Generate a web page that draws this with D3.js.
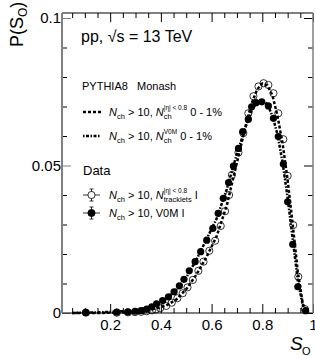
<html>
<script src='https://d3js.org/d3.v7.min.js'></script>
<style>
body {margin:0;}
text {font-family: "Liberation Sans", Arial, sans-serif; white-space: pre;}
</style>
<body onload='init()'>
<svg width=315 height=356>
</svg>
<script>
// data
var sV0M = [0.104, 0.226, 0.27, 0.298, 0.322, 0.344, 0.364, 0.383, 0.407, 0.43, 0.452, 0.473, 0.491, 0.512, 0.535, 0.557, 0.581, 0.605, 0.626, 0.646, 0.667, 0.686, 0.706, 0.723, 0.745, 0.758, 0.775, 0.798, 0.824, 0.844, 0.863, 0.883, 0.9, 0.92, 0.94, 0.971];
var pV0M = [0.0002, 0.0003, 0.0004, 0.0006, 0.0008, 0.0013, 0.0021, 0.0031, 0.0042, 0.0055, 0.0072, 0.0092, 0.0114, 0.0143, 0.0174, 0.0208, 0.0247, 0.0287, 0.0338, 0.0389, 0.0442, 0.0498, 0.0558, 0.0615, 0.0657, 0.0699, 0.0713, 0.0716, 0.0702, 0.066, 0.0598, 0.0505, 0.0377, 0.0233, 0.0089, 0.0008];

var sTrk = [0.104, 0.226, 0.27, 0.298, 0.322, 0.344, 0.365, 0.38, 0.397, 0.421, 0.443, 0.465, 0.486, 0.505, 0.526, 0.548, 0.568, 0.591, 0.614, 0.636, 0.653, 0.669, 0.68, 0.706, 0.725, 0.745, 0.765, 0.785, 0.805, 0.824, 0.844, 0.863, 0.883, 0.9, 0.922, 0.942, 0.968];
var pTrk = [0.0001, 0.0001, 0.0002, 0.0003, 0.0004, 0.0006, 0.0009, 0.0012, 0.0016, 0.0024, 0.0035, 0.005, 0.0067, 0.0087, 0.0112, 0.0143, 0.0174, 0.0211, 0.0245, 0.0295, 0.0345, 0.04, 0.0468, 0.0544, 0.061, 0.0677, 0.0735, 0.0768, 0.0779, 0.0773, 0.0745, 0.0677, 0.0589, 0.0465, 0.0298, 0.0123, 0.0013];

var sPythia = [0.05, 0.1, 0.15, 0.2, 0.25, 0.3, 0.34, 0.38, 0.42, 0.46, 0.5, 0.54, 0.58, 0.62, 0.66, 0.7, 0.74, 0.76, 0.78, 0.8, 0.82, 0.84, 0.86, 0.88, 0.9, 0.92, 0.94, 0.96, 0.98];
var pPythiaTrk = [0, 0, 0, 0.0001, 0.0002, 0.0005, 0.0009, 0.0015, 0.0025, 0.0045, 0.0081, 0.013, 0.019, 0.026, 0.0365, 0.051, 0.0655, 0.0715, 0.0758, 0.0778, 0.0772, 0.0738, 0.0668, 0.0575, 0.045, 0.03, 0.014, 0.003, 0.0002];
var pPythiaV0M = [0, 0.0001, 0.0002, 0.0004, 0.0006, 0.001, 0.0016, 0.0027, 0.0048, 0.0078, 0.012, 0.018, 0.025, 0.032, 0.042, 0.054, 0.0645, 0.069, 0.0715, 0.0722, 0.0708, 0.0668, 0.0605, 0.051, 0.039, 0.025, 0.011, 0.0025, 0.0002];

var xMajor = [0.2, 0.4, 0.6, 0.8, 1];
var xMinor = [0.05, 0.1, 0.15, 0.25, 0.3, 0.35, 0.45, 0.5, 0.55, 0.65, 0.7, 0.75, 0.85, 0.9, 0.95];
var yMajor = [0, 0.05, 0.1];
var yMinor = [0.01, 0.02, 0.03, 0.04, 0.06, 0.07, 0.08, 0.09];

function init() {
	var svg = d3.select("svg");
	var left = 62, top = 13;
	var width = 251, height = 300;

	var x = d3.scaleLinear().domain([0.01, 1]).range([0, width]);
	var y = d3.scaleLinear().domain([0, 0.1017]).range([height, 0]);

	var g = svg.append("g").attr("transform", "translate(" + left + "," + top + ")");

	// axes, ticks inside
	var bx = g.append("g").attr("transform", "translate(0," + height + ")").call(d3.axisBottom(x).tickValues(xMajor).tickSize(-9).tickPadding(6).tickFormat(function(d){return d;}));
	bx.selectAll("text").style("font-size", "15px").attr("fill", "black");
	g.append("g").attr("transform", "translate(0," + height + ")").call(d3.axisBottom(x).tickValues(xMinor).tickSize(-5).tickFormat(""));
	g.append("g").call(d3.axisTop(x).tickValues(xMajor).tickSize(-9).tickFormat(""));
	g.append("g").call(d3.axisTop(x).tickValues(xMinor).tickSize(-5).tickFormat(""));

	var ly = g.append("g").call(d3.axisLeft(y).tickValues(yMajor).tickSize(-9).tickPadding(1).tickFormat(function(d){return d;}));
	ly.selectAll("text").style("font-size", "15px").attr("fill", "black");
	g.append("g").call(d3.axisLeft(y).tickValues(yMinor).tickSize(-5).tickFormat(""));
	g.append("g").attr("transform", "translate(" + width + ",0)").call(d3.axisRight(y).tickValues(yMajor).tickSize(-9).tickFormat(""));
	g.append("g").attr("transform", "translate(" + width + ",0)").call(d3.axisRight(y).tickValues(yMinor).tickSize(-5).tickFormat(""));

	g.selectAll(".domain").remove();
	g.selectAll(".tick line").attr("stroke", "black");
	ly.selectAll(".tick line").attr("stroke", "#808080");

	// frame
	g.append("line").attr("x1", 0).attr("x2", width).attr("y1", 0).attr("y2", 0).attr("stroke", "black");
	g.append("line").attr("x1", 0).attr("x2", width).attr("y1", height).attr("y2", height).attr("stroke", "black");
	g.append("line").attr("x1", 0).attr("x2", 0).attr("y1", 0).attr("y2", height).attr("stroke", "#808080").attr("stroke-width", 2);
	g.append("line").attr("x1", width).attr("x2", width).attr("y1", 0).attr("y2", height).attr("stroke", "#808080").attr("stroke-width", 1.5);

	// PYTHIA curves
	var line = d3.line().x(function(d){return x(d[0]);}).y(function(d){return y(d[1]);});
	g.append("path").datum(d3.zip(sPythia, pPythiaTrk)).attr("d", line)
		.attr("fill", "none").attr("stroke", "black").attr("stroke-width", 2.5).attr("stroke-dasharray", "3,2");
	g.append("path").datum(d3.zip(sPythia, pPythiaV0M)).attr("d", line)
		.attr("fill", "none").attr("stroke", "black").attr("stroke-width", 2.5).attr("stroke-dasharray", "1.5,1.5,3,1.5");

	// data points
	g.selectAll(".trk").data(d3.zip(sTrk, pTrk)).enter().append("circle").attr("class", "trk")
		.attr("cx", function(d){return x(d[0]);}).attr("cy", function(d){return y(d[1]);})
		.attr("r", 3.6).attr("fill", "none").attr("stroke", "black").attr("stroke-width", 0.8);
	g.selectAll(".v0m").data(d3.zip(sV0M, pV0M)).enter().append("circle").attr("class", "v0m")
		.attr("cx", function(d){return x(d[0]);}).attr("cy", function(d){return y(d[1]);})
		.attr("r", 3.6).attr("fill", "black");

	// axis titles
	var yt = svg.append("text").attr("transform", "translate(23,47) rotate(-90)").style("font-size", "18px");
	yt.append("tspan").text("P(S");
	yt.append("tspan").text("O").style("font-size", "12px").attr("dy", 4);
	yt.append("tspan").text(")").attr("dy", -4);

	svg.append("text").attr("x", 290).attr("y", 350).text("S").style("font-size", "19px").style("font-style", "italic");
	svg.append("text").attr("x", 302).attr("y", 355).text("O").style("font-size", "11px");

	// header texts
	svg.append("text").attr("x", 81).attr("y", 42).text("pp, \u221As = 13 TeV").style("font-size", "16px");
	svg.append("text").attr("x", 82).attr("y", 90).text("PYTHIA8   Monash").style("font-size", "11px");
	svg.append("text").attr("x", 83).attr("y", 175).text("Data").style("font-size", "13px");

	// rich text helper: parts [text, kind]
	function rich(x0, y0, parts) {
		var cx = x0, stackX = null;
		parts.forEach(function(p) {
			var t = svg.append("text").text(p[0]);
			var fs = 11, dy = 0;
			if (p[1] == "sub") { fs = 7.5; dy = 3; }
			if (p[1] == "sup") { fs = 6.5; dy = -6; }
			var px = cx;
			if (p[1] == "sub" && stackX !== null) px = stackX;
			t.attr("x", px).attr("y", y0 + dy).style("font-size", fs + "px");
			if (p[1] == "it") t.style("font-style", "italic");
			var w = t.node().getComputedTextLength();
			if (p[1] == "sup") { stackX = cx; cx = cx + w; }
			else if (p[1] == "sub" && stackX !== null) { cx = Math.max(cx, stackX + w); stackX = null; }
			else cx = px + w;
		});
	}

	// legend, PYTHIA
	svg.append("line").attr("x1", 83).attr("x2", 101).attr("y1", 112).attr("y2", 112)
		.attr("stroke", "black").attr("stroke-width", 2.5).attr("stroke-dasharray", "3,2");
	rich(109, 116, [["N", "it"], ["ch", "sub"], [" > 10, ", ""], ["N", "it"], ["|\u03b7| < 0.8", "sup"], ["ch", "sub"], [" 0 - 1%", ""]]);
	svg.append("line").attr("x1", 83).attr("x2", 101).attr("y1", 136).attr("y2", 136)
		.attr("stroke", "black").attr("stroke-width", 2.5).attr("stroke-dasharray", "1.5,1.5,3,1.5");
	rich(109, 140, [["N", "it"], ["ch", "sub"], [" > 10, ", ""], ["N", "it"], ["V0M", "sup"], ["ch", "sub"], [" 0 - 1%", ""]]);

	// legend, data
	[[195, "none"], [213, "black"]].forEach(function(m) {
		svg.append("line").attr("x1", 83).attr("x2", 100).attr("y1", m[0]).attr("y2", m[0]).attr("stroke", "black").attr("stroke-width", 0.8);
		svg.append("line").attr("x1", 91.5).attr("x2", 91.5).attr("y1", m[0] - 6).attr("y2", m[0] + 6).attr("stroke", "black").attr("stroke-width", 0.8);
		svg.append("line").attr("x1", 89.5).attr("x2", 93.5).attr("y1", m[0] - 6).attr("y2", m[0] - 6).attr("stroke", "black").attr("stroke-width", 0.8);
		svg.append("line").attr("x1", 89.5).attr("x2", 93.5).attr("y1", m[0] + 6).attr("y2", m[0] + 6).attr("stroke", "black").attr("stroke-width", 0.8);
		svg.append("circle").attr("cx", 91.5).attr("cy", m[0]).attr("r", 3.6)
			.attr("fill", m[1] == "none" ? "white" : "black").attr("stroke", "black").attr("stroke-width", 0.8);
	});
	rich(109, 199, [["N", "it"], ["ch", "sub"], [" > 10, ", ""], ["N", "it"], ["|\u03b7| < 0.8", "sup"], ["tracklets", "sub"], [" I", ""]]);
	rich(109, 217, [["N", "it"], ["ch", "sub"], [" > 10, V0M I", ""]]);
}
</script>
</body>
</html>
